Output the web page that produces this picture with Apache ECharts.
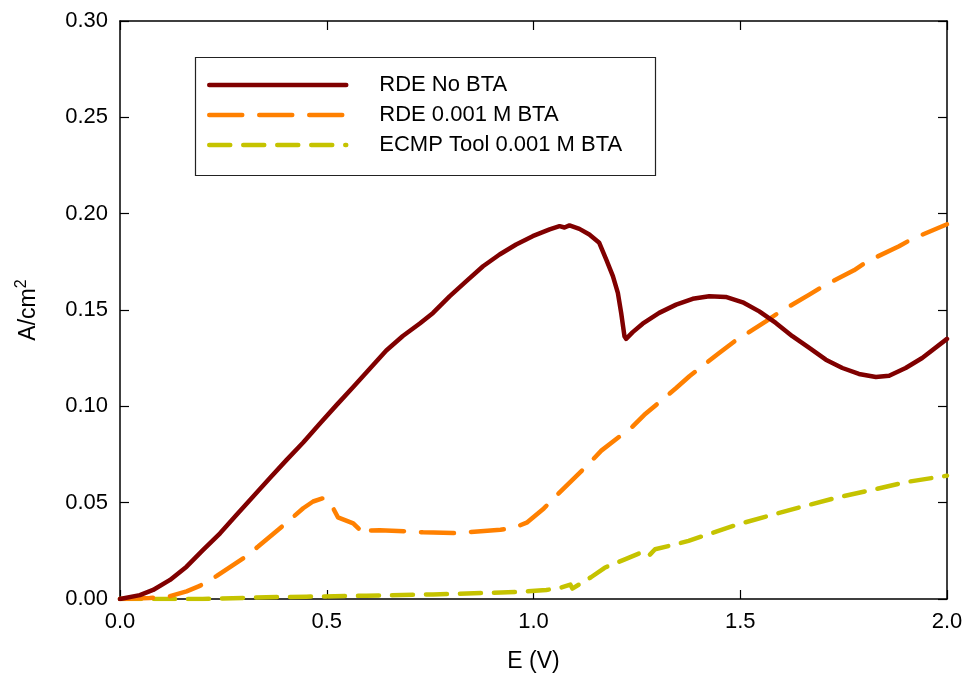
<!DOCTYPE html>
<html>
<head>
<meta charset="utf-8">
<script src="https://cdn.jsdelivr.net/npm/echarts@6/dist/echarts.min.js"></script>
<style>
  html, body { margin: 0; padding: 0; background: #fff; }
  #chart { width: 968px; height: 691px; }
</style>
</head>
<body>
<div id="chart"></div>
<script>
// Polarization curves: current density vs. applied potential
const seriesNames = ['RDE No BTA', 'RDE 0.001 M BTA', 'ECMP Tool 0.001 M BTA'];

const rdeNoBtaE = [0, 0.048, 0.080, 0.121, 0.161, 0.201, 0.242, 0.282, 0.322, 0.362, 0.403, 0.443, 0.483, 0.523, 0.564, 0.604, 0.644, 0.684, 0.725, 0.757, 0.797, 0.837, 0.878, 0.918, 0.958, 0.998, 1.039, 1.063, 1.075, 1.087, 1.111, 1.135, 1.159, 1.176, 1.192, 1.204, 1.212, 1.220, 1.224, 1.240, 1.264, 1.304, 1.345, 1.385, 1.425, 1.465, 1.506, 1.546, 1.586, 1.626, 1.667, 1.707, 1.747, 1.787, 1.828, 1.860, 1.900, 1.940, 2.000];
const rdeNoBtaA = [0, 0.0020, 0.0047, 0.0099, 0.0168, 0.0255, 0.0341, 0.0437, 0.0532, 0.0627, 0.0722, 0.0812, 0.0910, 0.1005, 0.1100, 0.1195, 0.1290, 0.1365, 0.1430, 0.1485, 0.1571, 0.1649, 0.1727, 0.1788, 0.1840, 0.1883, 0.1918, 0.1935, 0.1928, 0.1939, 0.1921, 0.1892, 0.1849, 0.1762, 0.1676, 0.1589, 0.1485, 0.1364, 0.1350, 0.1385, 0.1429, 0.1485, 0.1528, 0.1558, 0.1571, 0.1568, 0.1540, 0.1493, 0.1433, 0.1364, 0.1303, 0.1242, 0.1199, 0.1168, 0.1152, 0.1159, 0.1199, 0.1251, 0.1350];

const rdeBtaE = [0, 0.072, 0.121, 0.161, 0.193, 0.234, 0.298, 0.334, 0.411, 0.443, 0.467, 0.491, 0.507, 0.527, 0.564, 0.580, 0.590, 0.600, 0.628, 0.704, 0.733, 0.806, 0.920, 0.952, 0.985, 1.025, 1.058, 1.131, 1.164, 1.240, 1.268, 1.345, 1.377, 1.449, 1.486, 1.562, 1.594, 1.667, 1.703, 1.775, 1.808, 1.884, 1.916, 2.000];
const rdeBtaA = [0, 0.0005, 0.0015, 0.0040, 0.0068, 0.0120, 0.0211, 0.0272, 0.0411, 0.0471, 0.0506, 0.0523, 0.0506, 0.0424, 0.0393, 0.0359, 0.0333, 0.0355, 0.0357, 0.0350, 0.0346, 0.0342, 0.0359, 0.0369, 0.0398, 0.0470, 0.0542, 0.0696, 0.0770, 0.0896, 0.0956, 0.1095, 0.1156, 0.1277, 0.1337, 0.1441, 0.1488, 0.1580, 0.1627, 0.1706, 0.1753, 0.1831, 0.1869, 0.1945];

const ecmpE = [0, 0.200, 0.354, 0.451, 0.596, 0.757, 0.958, 1.031, 1.060, 1.089, 1.094, 1.139, 1.172, 1.221, 1.261, 1.278, 1.294, 1.327, 1.375, 1.424, 1.497, 1.571, 1.660, 1.741, 1.823, 1.904, 2.000];
const ecmpA = [0, 0.0000, 0.0009, 0.0012, 0.0017, 0.0024, 0.0036, 0.0047, 0.0055, 0.0075, 0.0054, 0.0113, 0.0162, 0.0206, 0.0241, 0.0222, 0.0258, 0.0275, 0.0302, 0.0337, 0.0389, 0.0433, 0.0485, 0.0530, 0.0568, 0.0608, 0.0640];

const xTicks = [0, 0.5, 1.0, 1.5, 2.0];
const yTicks = [0, 0.05, 0.10, 0.15, 0.20, 0.25, 0.30];

const zip = (xs, ys) => xs.map((x, i) => [x, ys[i]]);

const FONT = 'Liberation Sans, Arial, sans-serif';
const tickLabel = { color: '#000', fontFamily: FONT, fontSize: 22 };

function xAxisCfg(pos, showLabels) {
  return {
    type: 'value', position: pos, min: xTicks[0], max: xTicks[xTicks.length - 1], interval: 0.5,
    axisLine: { show: true, onZero: false, lineStyle: { color: '#000', width: 1.5 } },
    axisTick: { show: true, inside: true, length: 9, lineStyle: { color: '#000', width: 1.2 } },
    axisLabel: Object.assign({ show: showLabels, margin: 12, formatter: v => v.toFixed(1) }, tickLabel),
    splitLine: { show: false }
  };
}
function yAxisCfg(pos, showLabels) {
  return {
    type: 'value', position: pos, min: yTicks[0], max: yTicks[yTicks.length - 1], interval: 0.05,
    axisLine: { show: true, onZero: false, lineStyle: { color: '#000', width: 1.5 } },
    axisTick: { show: true, inside: true, length: 9, lineStyle: { color: '#000', width: 1.2 } },
    axisLabel: Object.assign({ show: showLabels, margin: 12, formatter: v => v.toFixed(2) }, tickLabel),
    splitLine: { show: false }
  };
}

const xMain = xAxisCfg('bottom', true);
xMain.name = 'E (V)';
xMain.nameLocation = 'middle';
xMain.nameGap = 51;
xMain.nameTextStyle = { color: '#000', fontFamily: FONT, fontSize: 23 };

const yMain = yAxisCfg('left', true);
yMain.name = '{base|A/cm}{sup|2}';
yMain.nameLocation = 'middle';
yMain.nameGap = 76;
yMain.nameTextStyle = {
  color: '#000', fontFamily: FONT, fontSize: 23,
  rich: {
    base: { fontFamily: FONT, fontSize: 23, color: '#000', lineHeight: 30 },
    sup: { fontFamily: FONT, fontSize: 16, color: '#000', lineHeight: 30, verticalAlign: 'top', padding: [0, 0, 12, 0] }
  }
};

const chart = echarts.init(document.getElementById('chart'), null, { renderer: 'canvas' });

chart.setOption({
  backgroundColor: '#fff',
  animation: false,
  grid: { left: 120, right: 21, top: 21, bottom: 92 },
  xAxis: [xMain, xAxisCfg('top', false)],
  yAxis: [yMain, yAxisCfg('right', false)],
  legend: {
    orient: 'vertical',
    left: 207, top: 74,
    padding: 0,
    itemWidth: 137, itemHeight: 14, itemGap: 8,
    itemStyle: { color: 'rgba(0,0,0,0)', borderWidth: 0, opacity: 0 },
    lineStyle: { width: 4.5, cap: 'round' },
    textStyle: { color: '#000', fontFamily: FONT, fontSize: 22, lineHeight: 22, padding: [0, 0, 0, 28] },
    data: seriesNames
  },
  graphic: [{
    type: 'rect', left: 193, top: 55, z: 0,
    shape: { width: 460, height: 118 },
    style: { fill: 'none', stroke: '#222', lineWidth: 1.2 }
  }],
  series: [
    {
      name: seriesNames[0], type: 'line', xAxisIndex: 0, yAxisIndex: 0,
      data: zip(rdeNoBtaE, rdeNoBtaA), showSymbol: false, symbol: 'none',
      lineStyle: { color: '#800000', width: 4.5, cap: 'round', join: 'round' },
      itemStyle: { color: '#800000' }, z: 3
    },
    {
      name: seriesNames[1], type: 'line', xAxisIndex: 0, yAxisIndex: 0,
      data: zip(rdeBtaE, rdeBtaA), showSymbol: false, symbol: 'none',
      lineStyle: { color: '#ff8000', width: 4.5, type: [33, 17], cap: 'round', join: 'round' },
      itemStyle: { color: '#ff8000' }, z: 2
    },
    {
      name: seriesNames[2], type: 'line', xAxisIndex: 0, yAxisIndex: 0,
      data: zip(ecmpE, ecmpA), showSymbol: false, symbol: 'none',
      lineStyle: { color: '#c5c300', width: 4.5, type: [21, 13], cap: 'round', join: 'round' },
      itemStyle: { color: '#c5c300' }, z: 1
    }
  ]
});
</script>
</body>
</html>
